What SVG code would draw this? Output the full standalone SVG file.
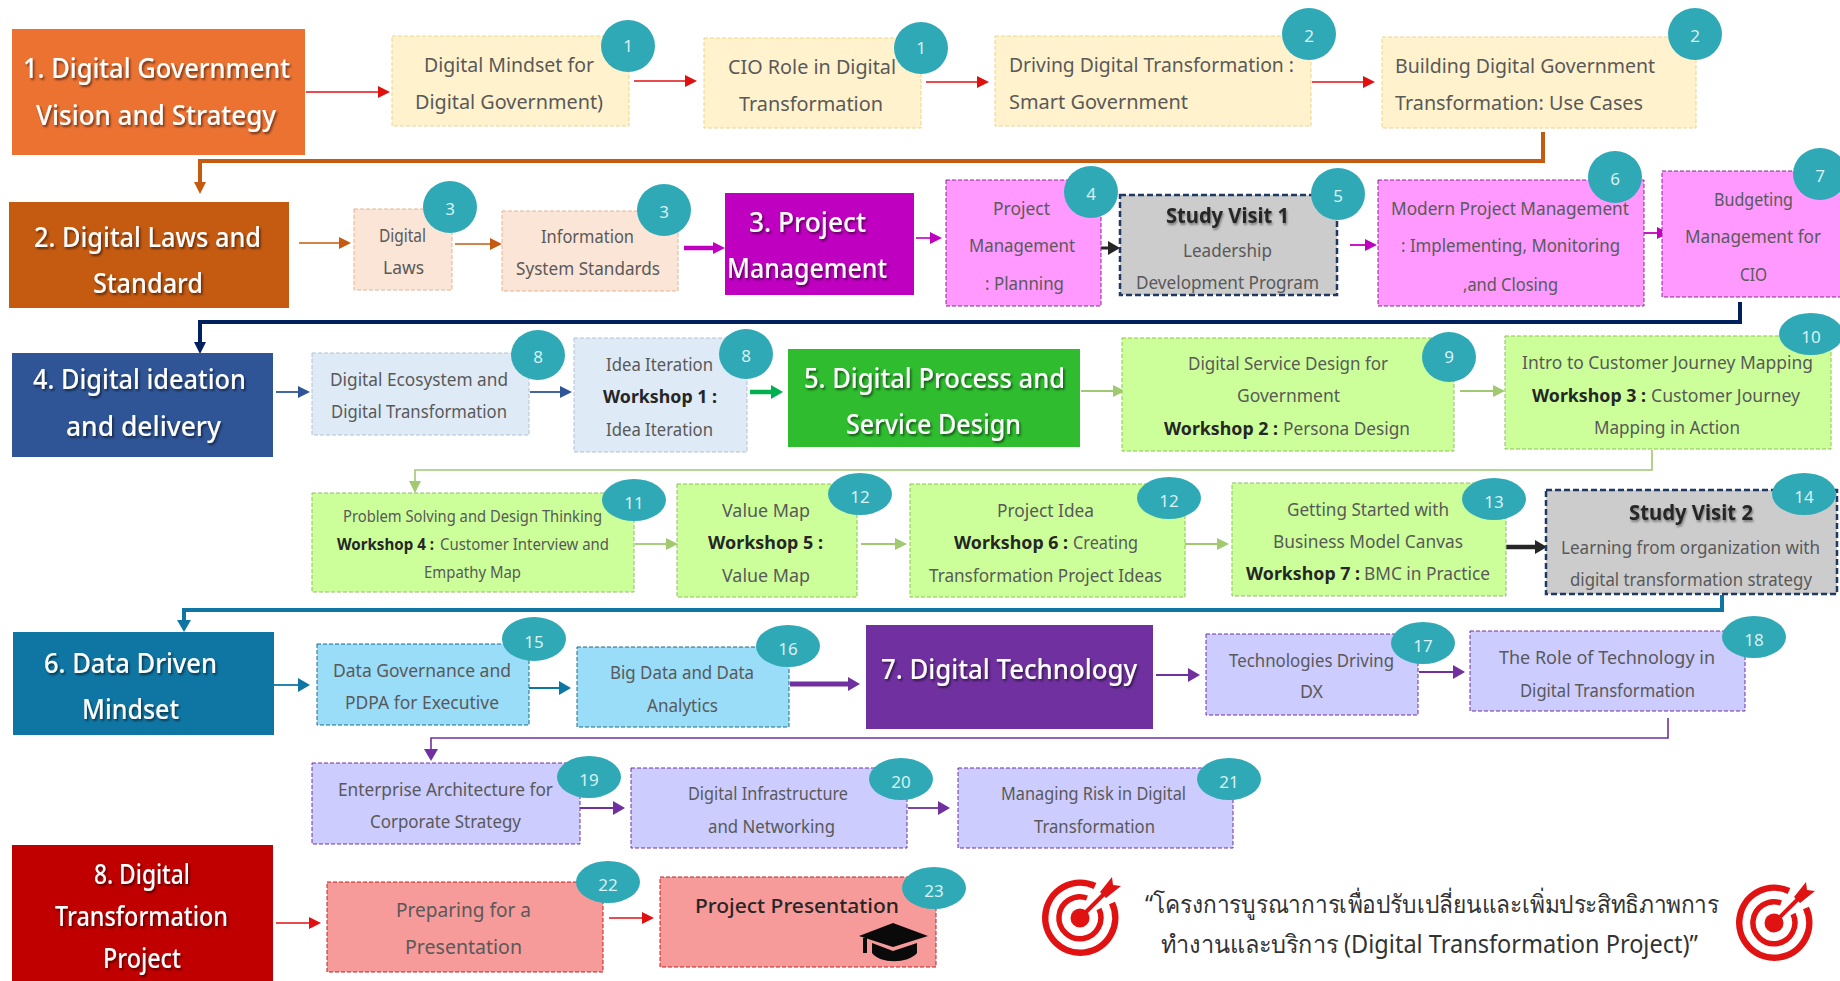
<svg xmlns="http://www.w3.org/2000/svg" width="1840" height="981" viewBox="0 0 1840 981">
<style>
text{font-family:"Noto Sans","Open Sans","Liberation Sans",sans-serif;fill:#595959;font-size:20px}
.m{font-size:18px}.s{font-size:16px}
.b{fill:#262626;font-weight:700}
.h{fill:#fff;font-size:27px;font-weight:500;filter:url(#sh);transform:translateY(1px)}
.n{fill:#d8f1f3;font-size:17px;text-anchor:middle}
.sv{fill:#262626;font-size:22px;font-weight:700;filter:url(#sh2)}
.c{fill:#2fa9b6}
.d{stroke-dasharray:4 2;stroke-width:1}
.y{fill:#fff2cc;stroke:#ecd68a}.p{fill:#fbe5d6;stroke:#e5b394}.k{fill:#ff99ff;stroke:#8a2a92}
.g{fill:#ccc;stroke:#1f3864;stroke-width:2.5;stroke-dasharray:6 3}
.u{fill:#deeaf6;stroke:#b3c0cf}.l{fill:#ccff99;stroke:#8fbf5a}.a{fill:#99ddf8;stroke:#1f6a88}
.v{fill:#ccccff;stroke:#7030a0}.o{fill:#f79a9a;stroke:#c02020}
#conn path{fill:none}
</style>
<defs>
<filter id="sh" x="-5%" y="-20%" width="110%" height="150%"><feDropShadow dx="1.5" dy="2" stdDeviation="1.2" flood-color="#000" flood-opacity=".55"/></filter>
<filter id="sh2" x="-5%" y="-20%" width="110%" height="150%"><feDropShadow dx="1" dy="2" stdDeviation="1.2" flood-color="#000" flood-opacity=".4"/></filter>
<marker id="mR" markerUnits="userSpaceOnUse" markerWidth="12" markerHeight="12" viewBox="0 0 12 12" refX="1" refY="6" orient="auto"><path d="M0 0L12 6L0 12Z" fill="#e01010"/></marker>
<marker id="mB" markerUnits="userSpaceOnUse" markerWidth="12" markerHeight="12" viewBox="0 0 12 12" refX="1" refY="6" orient="auto"><path d="M0 0L12 6L0 12Z" fill="#c55a11"/></marker>
<marker id="mM" markerUnits="userSpaceOnUse" markerWidth="12" markerHeight="12" viewBox="0 0 12 12" refX="1" refY="6" orient="auto"><path d="M0 0L12 6L0 12Z" fill="#c000c0"/></marker>
<marker id="mN" markerUnits="userSpaceOnUse" markerWidth="12" markerHeight="12" viewBox="0 0 12 12" refX="1" refY="6" orient="auto"><path d="M0 0L12 6L0 12Z" fill="#002060"/></marker>
<marker id="mU" markerUnits="userSpaceOnUse" markerWidth="12" markerHeight="12" viewBox="0 0 12 12" refX="1" refY="6" orient="auto"><path d="M0 0L12 6L0 12Z" fill="#2f5597"/></marker>
<marker id="mG" markerUnits="userSpaceOnUse" markerWidth="12" markerHeight="14" viewBox="0 0 12 14" refX="1" refY="7" orient="auto"><path d="M0 0L12 7L0 14Z" fill="#00b050"/></marker>
<marker id="mL" markerUnits="userSpaceOnUse" markerWidth="12" markerHeight="12" viewBox="0 0 12 12" refX="1" refY="6" orient="auto"><path d="M0 0L12 6L0 12Z" fill="#a0c970"/></marker>
<marker id="mK" markerUnits="userSpaceOnUse" markerWidth="12" markerHeight="14" viewBox="0 0 12 14" refX="1" refY="7" orient="auto"><path d="M0 0L12 7L0 14Z" fill="#262626"/></marker>
<marker id="mT" markerUnits="userSpaceOnUse" markerWidth="12" markerHeight="14" viewBox="0 0 12 14" refX="1" refY="7" orient="auto"><path d="M0 0L12 7L0 14Z" fill="#0f76a4"/></marker>
<marker id="mP" markerUnits="userSpaceOnUse" markerWidth="12" markerHeight="14" viewBox="0 0 12 14" refX="1" refY="7" orient="auto"><path d="M0 0L12 7L0 14Z" fill="#7030a0"/></marker>
<g id="tgt">
<path d="M32 -15A35 35 0 1 1 15 -32" fill="none" stroke="#e01212" stroke-width="6.5"/>
<path d="M19 -9A21 21 0 1 1 7 -20" fill="none" stroke="#e01212" stroke-width="5.5"/>
<circle r="9.5" fill="#e01212"/>
<path d="M0 0L25 -25" stroke="#e01212" stroke-width="4"/>
<path d="M20 -26L32 -41L33 -33L41 -32L26 -20Z" fill="#e01212"/>
</g>
</defs>

<g id="conn" fill="none">
<path d="M306 92H379" stroke="#e01010" stroke-width="1.6" marker-end="url(#mR)"/>
<path d="M634 81H686" stroke="#e01010" stroke-width="1.6" marker-end="url(#mR)"/>
<path d="M926 82H978" stroke="#e01010" stroke-width="1.6" marker-end="url(#mR)"/>
<path d="M1312 82H1364" stroke="#e01010" stroke-width="1.6" marker-end="url(#mR)"/>
<path d="M1543 132V161H200V183" stroke="#c55a11" stroke-width="4" marker-end="url(#mB)"/>
<path d="M299 243H340" stroke="#c55a11" stroke-width="1.6" marker-end="url(#mB)"/>
<path d="M455 244H491" stroke="#c55a11" stroke-width="1.6" marker-end="url(#mB)"/>
<path d="M684 248H714" stroke="#c000c0" stroke-width="4.5" marker-end="url(#mM)"/>
<path d="M916 238H931" stroke="#c000c0" stroke-width="1.6" marker-end="url(#mM)"/>
<path d="M1101 248H1109" stroke="#262626" stroke-width="3" marker-end="url(#mK)"/>
<path d="M1350 245H1366" stroke="#c000c0" stroke-width="1.8" marker-end="url(#mM)"/>
<path d="M1644 233H1658" stroke="#c000c0" stroke-width="1.8" marker-end="url(#mM)"/>
<path d="M1740 302V322H200V343" stroke="#002060" stroke-width="4" marker-end="url(#mN)"/>
<path d="M276 392H299" stroke="#2f5597" stroke-width="1.8" marker-end="url(#mU)"/>
<path d="M530 392H561" stroke="#2f5597" stroke-width="1.8" marker-end="url(#mU)"/>
<path d="M750 392H772" stroke="#00b050" stroke-width="4.5" marker-end="url(#mG)"/>
<path d="M1081 391H1114" stroke="#a0c970" stroke-width="1.8" marker-end="url(#mL)"/>
<path d="M1460 391H1494" stroke="#a0c970" stroke-width="1.8" marker-end="url(#mL)"/>
<path d="M1652 450V470H415V482" stroke="#a0c970" stroke-width="1.6" marker-end="url(#mL)"/>
<path d="M635 544H667" stroke="#a0c970" stroke-width="1.8" marker-end="url(#mL)"/>
<path d="M861 544H896" stroke="#a0c970" stroke-width="1.8" marker-end="url(#mL)"/>
<path d="M1185 544H1218" stroke="#a0c970" stroke-width="1.8" marker-end="url(#mL)"/>
<path d="M1506 547H1536" stroke="#262626" stroke-width="4.5" marker-end="url(#mK)"/>
<path d="M1722 595V610H184V621" stroke="#0f76a4" stroke-width="4" marker-end="url(#mT)"/>
<path d="M274 685H299" stroke="#0f76a4" stroke-width="1.8" marker-end="url(#mT)"/>
<path d="M526 688H560" stroke="#0f76a4" stroke-width="1.8" marker-end="url(#mT)"/>
<path d="M790 684H849" stroke="#7030a0" stroke-width="5" marker-end="url(#mP)"/>
<path d="M1156 675H1189" stroke="#7030a0" stroke-width="1.8" marker-end="url(#mP)"/>
<path d="M1419 672H1454" stroke="#7030a0" stroke-width="1.8" marker-end="url(#mP)"/>
<path d="M1668 718V738H431V750" stroke="#7030a0" stroke-width="1.6" marker-end="url(#mP)"/>
<path d="M580 808H614" stroke="#7030a0" stroke-width="1.8" marker-end="url(#mP)"/>
<path d="M908 808H939" stroke="#7030a0" stroke-width="1.8" marker-end="url(#mP)"/>
<path d="M276 923H310" stroke="#e01010" stroke-width="1.6" marker-end="url(#mR)"/>
<path d="M609 918H643" stroke="#e01010" stroke-width="1.6" marker-end="url(#mR)"/>
</g>

<g id="h1"><rect x="12" y="29" width="293" height="126" fill="#ec7232"/>
<text class="h" x="23" y="77" textLength="267" lengthAdjust="spacingAndGlyphs">1. Digital Government</text>
<text class="h" x="36" y="124" textLength="240" lengthAdjust="spacingAndGlyphs">Vision and Strategy</text></g>

<g id="n1"><rect class="d y" x="392" y="36" width="237" height="90"/>
<text x="424" y="72" textLength="170" lengthAdjust="spacingAndGlyphs">Digital Mindset for</text>
<text x="415" y="109" textLength="188" lengthAdjust="spacingAndGlyphs">Digital Government)</text>
<ellipse class="c" cx="628" cy="46" rx="27" ry="26"/><text class="n" x="628" y="52">1</text></g>
<g id="n2"><rect class="d y" x="704" y="38" width="217" height="90"/>
<text x="728" y="74" textLength="168" lengthAdjust="spacingAndGlyphs">CIO Role in Digital</text>
<text x="739" y="111" textLength="144" lengthAdjust="spacingAndGlyphs">Transformation</text>
<ellipse class="c" cx="921" cy="48" rx="27" ry="26"/><text class="n" x="921" y="54">1</text></g>
<g id="n3"><rect class="d y" x="995" y="36" width="316" height="90"/>
<text x="1009" y="72" textLength="285" lengthAdjust="spacingAndGlyphs">Driving Digital Transformation :</text>
<text x="1009" y="109" textLength="179" lengthAdjust="spacingAndGlyphs">Smart Government</text>
<ellipse class="c" cx="1309" cy="34" rx="27" ry="26"/><text class="n" x="1309" y="42">2</text></g>
<g id="n4"><rect class="d y" x="1382" y="37" width="314" height="91"/>
<text x="1395" y="73" textLength="260" lengthAdjust="spacingAndGlyphs">Building Digital Government</text>
<text x="1395" y="110" textLength="248" lengthAdjust="spacingAndGlyphs">Transformation: Use Cases</text>
<ellipse class="c" cx="1695" cy="34" rx="27" ry="26"/><text class="n" x="1695" y="42">2</text></g>

<g id="h2"><rect x="9" y="202" width="280" height="106" fill="#c55a11"/>
<text class="h" x="34" y="246" textLength="227" lengthAdjust="spacingAndGlyphs">2. Digital Laws and</text>
<text class="h" x="93" y="292" textLength="110" lengthAdjust="spacingAndGlyphs">Standard</text></g>
<g id="n5"><rect class="d p" x="354" y="209" width="98" height="81"/>
<text class="m" x="379" y="242" textLength="47" lengthAdjust="spacingAndGlyphs">Digital</text>
<text class="m" x="383" y="274" textLength="41" lengthAdjust="spacingAndGlyphs">Laws</text>
<ellipse class="c" cx="450" cy="207" rx="27" ry="26"/><text class="n" x="450" y="215">3</text></g>
<g id="n6"><rect class="d p" x="502" y="211" width="176" height="80"/>
<text class="m" x="541" y="243" textLength="93" lengthAdjust="spacingAndGlyphs">Information</text>
<text class="m" x="516" y="275" textLength="144" lengthAdjust="spacingAndGlyphs">System Standards</text>
<ellipse class="c" cx="664" cy="210" rx="27" ry="26"/><text class="n" x="664" y="218">3</text></g>
<g id="h3"><rect x="725" y="193" width="189" height="102" fill="#c000c0"/>
<text class="h" x="749" y="231" textLength="117" lengthAdjust="spacingAndGlyphs">3. Project</text>
<text class="h" x="727" y="277" textLength="160" lengthAdjust="spacingAndGlyphs">Management</text></g>
<g id="n7"><rect class="d k" x="946" y="180" width="155" height="126"/>
<text class="m" x="993" y="215" textLength="57" lengthAdjust="spacingAndGlyphs">Project</text>
<text class="m" x="969" y="252" textLength="106" lengthAdjust="spacingAndGlyphs">Management</text>
<text class="m" x="985" y="290" textLength="79" lengthAdjust="spacingAndGlyphs">: Planning</text>
<ellipse class="c" cx="1091" cy="192" rx="27" ry="26"/><text class="n" x="1091" y="200">4</text></g>
<g id="n8"><rect class="g" x="1120" y="195" width="217" height="100"/>
<text class="sv" x="1166" y="223" textLength="123" lengthAdjust="spacingAndGlyphs">Study Visit 1</text>
<text class="m" x="1183" y="257" textLength="89" lengthAdjust="spacingAndGlyphs">Leadership</text>
<text class="m" x="1136" y="289" textLength="183" lengthAdjust="spacingAndGlyphs">Development Program</text>
<ellipse class="c" cx="1338" cy="194" rx="27" ry="26"/><text class="n" x="1338" y="202">5</text></g>
<g id="n9"><rect class="d k" x="1378" y="180" width="266" height="126"/>
<text class="m" x="1391" y="215" textLength="238" lengthAdjust="spacingAndGlyphs">Modern Project Management</text>
<text class="m" x="1401" y="252" textLength="219" lengthAdjust="spacingAndGlyphs">: Implementing, Monitoring</text>
<text class="m" x="1463" y="291" textLength="95" lengthAdjust="spacingAndGlyphs">,and Closing</text>
<ellipse class="c" cx="1615" cy="177" rx="27" ry="26"/><text class="n" x="1615" y="185">6</text></g>
<g id="n10"><rect class="d k" x="1662" y="171" width="180" height="126"/>
<text class="m" x="1714" y="206" textLength="79" lengthAdjust="spacingAndGlyphs">Budgeting</text>
<text class="m" x="1685" y="243" textLength="136" lengthAdjust="spacingAndGlyphs">Management for</text>
<text class="m" x="1740" y="281" textLength="27" lengthAdjust="spacingAndGlyphs">CIO</text>
<ellipse class="c" cx="1820" cy="174" rx="27" ry="26"/><text class="n" x="1820" y="182">7</text></g>

<g id="h4"><rect x="12" y="353" width="261" height="104" fill="#2f5597"/>
<text class="h" x="33" y="388" textLength="213" lengthAdjust="spacingAndGlyphs">4. Digital ideation</text>
<text class="h" x="66" y="435" textLength="155" lengthAdjust="spacingAndGlyphs">and delivery</text></g>
<g id="n11"><rect class="d u" x="312" y="353" width="217" height="82"/>
<text class="m" x="330" y="386" textLength="178" lengthAdjust="spacingAndGlyphs">Digital Ecosystem and</text>
<text class="m" x="331" y="418" textLength="176" lengthAdjust="spacingAndGlyphs">Digital Transformation</text>
<ellipse class="c" cx="538" cy="355" rx="27" ry="25"/><text class="n" x="538" y="363">8</text></g>
<g id="n12"><rect class="d u" x="574" y="338" width="173" height="114"/>
<text class="m" x="606" y="371" textLength="107" lengthAdjust="spacingAndGlyphs">Idea Iteration</text>
<text class="m b" x="603" y="403" textLength="114" lengthAdjust="spacingAndGlyphs">Workshop 1 :</text>
<text class="m" x="606" y="436" textLength="107" lengthAdjust="spacingAndGlyphs">Idea Iteration</text>
<ellipse class="c" cx="746" cy="354" rx="27" ry="25"/><text class="n" x="746" y="362">8</text></g>
<g id="h5"><rect x="788" y="349" width="292" height="98" fill="#2fbc2f"/>
<text class="h" x="804" y="387" textLength="261" lengthAdjust="spacingAndGlyphs">5. Digital Process and</text>
<text class="h" x="846" y="433" textLength="175" lengthAdjust="spacingAndGlyphs">Service Design</text></g>
<g id="n13"><rect class="d l" x="1122" y="338" width="332" height="113"/>
<text class="m" x="1188" y="370" textLength="200" lengthAdjust="spacingAndGlyphs">Digital Service Design for</text>
<text class="m" x="1237" y="402" textLength="103" lengthAdjust="spacingAndGlyphs">Government</text>
<text class="m b" x="1164" y="435" textLength="114" lengthAdjust="spacingAndGlyphs">Workshop 2 :</text>
<text class="m" x="1283" y="435" textLength="127" lengthAdjust="spacingAndGlyphs">Persona  Design</text>
<ellipse class="c" cx="1449" cy="357" rx="27" ry="25"/><text class="n" x="1449" y="363">9</text></g>
<g id="n14"><rect class="d l" x="1505" y="336" width="326" height="113"/>
<text class="m" x="1522" y="369" textLength="291" lengthAdjust="spacingAndGlyphs">Intro to Customer Journey Mapping</text>
<text class="m b" x="1532" y="402" textLength="114" lengthAdjust="spacingAndGlyphs">Workshop 3 :</text>
<text class="m" x="1651" y="402" textLength="149" lengthAdjust="spacingAndGlyphs">Customer Journey</text>
<text class="m" x="1594" y="434" textLength="146" lengthAdjust="spacingAndGlyphs">Mapping in Action</text>
<ellipse class="c" cx="1811" cy="334" rx="32" ry="21"/><text class="n" x="1811" y="343">10</text></g>

<g id="n15"><rect class="d l" x="312" y="493" width="322" height="99"/>
<text class="s" x="343" y="522" textLength="259" lengthAdjust="spacingAndGlyphs">Problem Solving and Design Thinking</text>
<text class="s b" x="337" y="550" textLength="97" lengthAdjust="spacingAndGlyphs">Workshop 4 :</text>
<text class="s" x="440" y="550" textLength="169" lengthAdjust="spacingAndGlyphs">Customer Interview and</text>
<text class="s" x="424" y="578" textLength="97" lengthAdjust="spacingAndGlyphs">Empathy Map</text>
<ellipse class="c" cx="634" cy="500" rx="32" ry="21"/><text class="n" x="634" y="509">11</text></g>
<g id="n16"><rect class="d l" x="677" y="484" width="180" height="113"/>
<text class="m" x="722" y="517" textLength="88" lengthAdjust="spacingAndGlyphs">Value Map</text>
<text class="m b" x="708" y="549" textLength="115" lengthAdjust="spacingAndGlyphs">Workshop 5 :</text>
<text class="m" x="722" y="582" textLength="88" lengthAdjust="spacingAndGlyphs">Value Map</text>
<ellipse class="c" cx="860" cy="494" rx="32" ry="21"/><text class="n" x="860" y="503">12</text></g>
<g id="n17"><rect class="d l" x="910" y="484" width="275" height="113"/>
<text class="m" x="997" y="517" textLength="97" lengthAdjust="spacingAndGlyphs">Project Idea</text>
<text class="m b" x="954" y="549" textLength="114" lengthAdjust="spacingAndGlyphs">Workshop 6 :</text>
<text class="m" x="1073" y="549" textLength="65" lengthAdjust="spacingAndGlyphs">Creating</text>
<text class="m" x="929" y="582" textLength="233" lengthAdjust="spacingAndGlyphs">Transformation  Project Ideas</text>
<ellipse class="c" cx="1169" cy="498" rx="32" ry="21"/><text class="n" x="1169" y="507">12</text></g>
<g id="n18"><rect class="d l" x="1232" y="483" width="274" height="113"/>
<text class="m" x="1287" y="516" textLength="162" lengthAdjust="spacingAndGlyphs">Getting  Started with</text>
<text class="m" x="1273" y="548" textLength="190" lengthAdjust="spacingAndGlyphs">Business Model Canvas</text>
<text class="m b" x="1246" y="580" textLength="114" lengthAdjust="spacingAndGlyphs">Workshop 7 :</text>
<text class="m" x="1364" y="580" textLength="126" lengthAdjust="spacingAndGlyphs">BMC in Practice</text>
<ellipse class="c" cx="1494" cy="499" rx="32" ry="21"/><text class="n" x="1494" y="508">13</text></g>
<g id="n19"><rect class="g" x="1546" y="490" width="291" height="104"/>
<text class="sv" x="1629" y="520" textLength="124" lengthAdjust="spacingAndGlyphs">Study Visit 2</text>
<text class="m" x="1561" y="554" textLength="259" lengthAdjust="spacingAndGlyphs">Learning from organization  with</text>
<text class="m" x="1570" y="586" textLength="242" lengthAdjust="spacingAndGlyphs">digital  transformation  strategy</text>
<ellipse class="c" cx="1804" cy="494" rx="32" ry="21"/><text class="n" x="1804" y="503">14</text></g>

<g id="h6"><rect x="13" y="632" width="261" height="103" fill="#0f76a4"/>
<text class="h" x="44" y="672" textLength="173" lengthAdjust="spacingAndGlyphs">6. Data Driven</text>
<text class="h" x="82" y="718" textLength="97" lengthAdjust="spacingAndGlyphs">Mindset</text></g>
<g id="n20"><rect class="d a" x="317" y="644" width="212" height="81"/>
<text class="m" x="333" y="677" textLength="178" lengthAdjust="spacingAndGlyphs">Data Governance and</text>
<text class="m" x="345" y="709" textLength="154" lengthAdjust="spacingAndGlyphs">PDPA for Executive</text>
<ellipse class="c" cx="534" cy="639" rx="32" ry="22"/><text class="n" x="534" y="648">15</text></g>
<g id="n21"><rect class="d a" x="577" y="647" width="212" height="80"/>
<text class="m" x="610" y="679" textLength="144" lengthAdjust="spacingAndGlyphs">Big Data and Data</text>
<text class="m" x="647" y="712" textLength="71" lengthAdjust="spacingAndGlyphs">Analytics</text>
<ellipse class="c" cx="788" cy="646" rx="32" ry="21"/><text class="n" x="788" y="655">16</text></g>
<g id="h7"><rect x="866" y="625" width="287" height="104" fill="#7030a0"/>
<text class="h" x="881" y="678" textLength="256" lengthAdjust="spacingAndGlyphs">7. Digital Technology</text></g>
<g id="n22"><rect class="d v" x="1206" y="634" width="212" height="81"/>
<text class="m" x="1229" y="667" textLength="165" lengthAdjust="spacingAndGlyphs">Technologies Driving</text>
<text class="m" x="1300" y="698" textLength="23" lengthAdjust="spacingAndGlyphs">DX</text>
<ellipse class="c" cx="1423" cy="643" rx="32" ry="21"/><text class="n" x="1423" y="652">17</text></g>
<g id="n23"><rect class="d v" x="1470" y="631" width="275" height="80"/>
<text class="m" x="1499" y="664" textLength="216" lengthAdjust="spacingAndGlyphs">The Role of Technology in</text>
<text class="m" x="1520" y="697" textLength="175" lengthAdjust="spacingAndGlyphs">Digital Transformation</text>
<ellipse class="c" cx="1754" cy="637" rx="32" ry="21"/><text class="n" x="1754" y="646">18</text></g>

<g id="n24"><rect class="d v" x="312" y="763" width="268" height="81"/>
<text class="m" x="338" y="796" textLength="215" lengthAdjust="spacingAndGlyphs">Enterprise  Architecture for</text>
<text class="m" x="370" y="828" textLength="151" lengthAdjust="spacingAndGlyphs">Corporate  Strategy</text>
<ellipse class="c" cx="589" cy="777" rx="32" ry="21"/><text class="n" x="589" y="786">19</text></g>
<g id="n25"><rect class="d v" x="631" y="768" width="276" height="80"/>
<text class="m" x="688" y="800" textLength="160" lengthAdjust="spacingAndGlyphs">Digital Infrastructure</text>
<text class="m" x="708" y="833" textLength="127" lengthAdjust="spacingAndGlyphs">and Networking</text>
<ellipse class="c" cx="901" cy="779" rx="32" ry="21"/><text class="n" x="901" y="788">20</text></g>
<g id="n26"><rect class="d v" x="958" y="768" width="275" height="80"/>
<text class="m" x="1001" y="800" textLength="185" lengthAdjust="spacingAndGlyphs">Managing Risk in Digital</text>
<text class="m" x="1034" y="833" textLength="121" lengthAdjust="spacingAndGlyphs">Transformation</text>
<ellipse class="c" cx="1229" cy="779" rx="32" ry="21"/><text class="n" x="1229" y="788">21</text></g>

<g id="h8"><rect x="12" y="845" width="261" height="136" fill="#c00000"/>
<text class="h" x="94" y="883" textLength="96" lengthAdjust="spacingAndGlyphs">8. Digital</text>
<text class="h" x="55" y="925" textLength="173" lengthAdjust="spacingAndGlyphs">Transformation</text>
<text class="h" x="103" y="967" textLength="78" lengthAdjust="spacingAndGlyphs">Project</text></g>
<g id="n27"><rect class="d o" x="327" y="882" width="276" height="90"/>
<text x="396" y="917" textLength="135" lengthAdjust="spacingAndGlyphs">Preparing for a</text>
<text x="405" y="954" textLength="117" lengthAdjust="spacingAndGlyphs">Presentation</text>
<ellipse class="c" cx="608" cy="882" rx="32" ry="21"/><text class="n" x="608" y="891">22</text></g>
<g id="n28"><rect class="d o" x="660" y="877" width="276" height="90"/>
<text x="695" y="913" style="fill:#262626;font-weight:500" textLength="204" lengthAdjust="spacingAndGlyphs">Project Presentation</text>
<path d="M893 923L928 936L893 947L859 936Z" fill="#0a0a0a"/>
<path d="M872 943L893 951L917 943V953C908 964 880 964 872 953Z" fill="#0a0a0a"/>
<path d="M865 938V953" stroke="#0a0a0a" stroke-width="4" fill="none"/>
<ellipse class="c" cx="934" cy="888" rx="32" ry="21"/><text class="n" x="934" y="897">23</text></g>

<g id="note">
<use href="#tgt" transform="translate(1080 918)"/>
<use href="#tgt" transform="translate(1774 923)"/>
<text x="1145" y="913" style="fill:#333;font-size:25px" textLength="574" lengthAdjust="spacingAndGlyphs">“โครงการบูรณาการเพื่อปรับเปลี่ยนและเพิ่มประสิทธิภาพการ</text>
<text x="1161" y="953" style="fill:#333;font-size:25px" textLength="537" lengthAdjust="spacingAndGlyphs">ทำงานและบริการ (Digital Transformation Project)”</text>
</g>
</svg>
